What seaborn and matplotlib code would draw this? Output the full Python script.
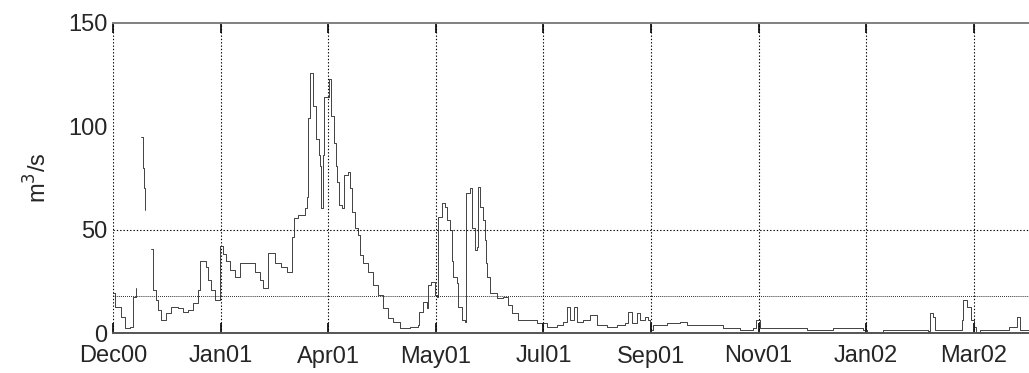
import numpy             as np
import pandas            as pd
import seaborn           as sns
import matplotlib.pyplot as plt


# x positions in units of the month ticks (0 = Dec00, 1 = Jan01, ...)
TICK_LABELS = ["Dec00", "Jan01", "Apr01", "May01", "Jul01",
               "Sep01", "Nov01", "Jan02", "Mar02"]

NAN = float("nan")

FLOW_X = [
    0.00, 0.02, 0.07, 0.11, 0.16, 0.19, 0.21, 0.24, 0.26, 0.28, 0.29, 0.30,
    0.32, 0.35, 0.37, 0.40, 0.42, 0.45, 0.49, 0.54, 0.60, 0.65, 0.70, 0.74,
    0.79, 0.81, 0.86, 0.88, 0.91, 0.95, 0.99, 1.02, 1.05, 1.09, 1.13,
    1.18, 1.28, 1.32, 1.37, 1.39, 1.44, 1.51, 1.56, 1.62, 1.66, 1.68,
    1.72, 1.78, 1.80, 1.81, 1.83, 1.86, 1.89, 1.91, 1.92, 1.93, 1.95,
    1.96, 2.01, 2.03, 2.05, 2.07, 2.08, 2.10, 2.13, 2.15, 2.18, 2.20,
    2.22, 2.25, 2.28, 2.30, 2.32, 2.37, 2.42, 2.46, 2.51, 2.56, 2.60,
    2.67, 2.76, 2.83, 2.84, 2.88, 2.92, 2.93, 2.96, 2.99, 3.01, 3.02,
    3.06, 3.09, 3.10, 3.13, 3.15, 3.16, 3.20, 3.21, 3.24, 3.27, 3.28,
    3.32, 3.34, 3.36, 3.38, 3.39, 3.41, 3.44, 3.46, 3.47, 3.48, 3.50,
    3.57, 3.62, 3.67, 3.71, 3.76, 3.85, 3.94, 4.03, 4.13, 4.18, 4.22,
    4.25, 4.28, 4.31, 4.37, 4.43, 4.50, 4.59, 4.68, 4.76, 4.79, 4.82,
    4.87, 4.90, 4.94, 4.97, 4.99, 5.02, 5.15, 5.27, 5.33, 5.58, 5.67,
    5.83, 5.95, 5.98, 6.01, 6.23, 6.45, 6.69, 6.97, 7.01, 7.16, 7.32,
    7.57, 7.59, 7.62, 7.64, 7.87, 7.89, 7.90, 7.94, 7.97, 8.00, 8.02,
    8.06, 8.24, 8.33, 8.40, 8.43, 8.51,
]

# NAN marks a gap in the record
FLOW_Q = [
    19.4, 12.6, 7.7, 2.4, 3.0, 17.4, 21.8, NAN, 95.0, 80.0, 70.0, 59.5,
    NAN, 40.6, 20.8, 16.0, 11.0, 6.3, 9.7, 12.6, 12.0, 10.0, 11.0, 14.5,
    20.8, 35.0, 32.0, 25.6, 20.8, 16.0, 42.0, 38.0, 35.0, 30.5, 27.0,
    34.0, 34.0, 29.5, 25.6, 22.0, 38.7, 34.0, 32.0, 29.5, 46.5, 55.6,
    57.0, 60.5, 66.0, 104.0, 126.0, 110.0, 94.0, 86.0, 81.0, 60.5, 86.0,
    114.0, 123.0, 105.0, 92.0, 81.0, 73.0, 62.0, 60.5, 76.5, 78.0, 70.0,
    58.5, 50.8, 47.4, 37.7, 34.0, 29.5, 23.0, 18.4, 12.0, 7.3, 5.3,
    2.4, 3.0, 3.9, 10.0, 15.0, 12.0, 23.0, 24.7, 18.4, 17.4, 56.0,
    63.0, 61.0, 54.7, 50.0, 35.0, 27.0, 24.0, 12.6, 6.3, 5.3, 67.7,
    70.0, 51.0, 40.0, 41.6, 70.6, 61.0, 54.7, 45.0, 34.0, 27.0, 19.4,
    17.0, 17.4, 13.5, 9.7, 6.3, 6.3, 4.8, 3.0, 3.9, 5.3, 12.6,
    6.3, 12.6, 5.3, 6.3, 8.7, 3.9, 3.0, 3.9, 4.8, 10.0, 4.8,
    9.7, 6.3, 7.7, 6.3, 1.5, 3.9, 4.8, 5.3, 3.9, 3.9, 2.4,
    1.5, 2.4, 6.3, 2.4, 2.4, 1.5, 2.4, 1.5, 0.5, 1.5, 1.5,
    0.8, 9.7, 7.7, 1.5, 1.5, 6.3, 16.0, 12.6, 6.3, 3.0, 0.5,
    1.5, 1.5, 3.0, 7.7, 1.5, 1.5,
]

THRESHOLD = 18
Y_TICKS   = [0, 50, 100, 150]


def make_plot():

    df        = pd.DataFrame({"x": FLOW_X, "q": FLOW_Q})
    df["seg"] = df["q"].isna().cumsum()
    df        = df.dropna()

    sns.set_theme(style="white")
    plt.rcParams["font.family"] = ["Liberation Sans", "DejaVu Sans"]

    fig = plt.figure(figsize=(10.29, 3.73), dpi=100)
    ax  = fig.add_axes([113 / 1029, 40 / 373, 916 / 1029, 310 / 373])

    sns.lineplot(
        data      =df,
        x         ="x",
        y         ="q",
        units     ="seg",
        ax        =ax,
        color     ="#222222",
        linewidth =0.6,
        drawstyle ="steps-post",
        estimator =None,
    )

    ax.set_xlim(0, 916 / 107.6)
    ax.set_ylim(0, 150)
    ax.set_xticks(np.arange(len(TICK_LABELS)))
    ax.set_xticklabels(TICK_LABELS)
    ax.set_yticks(Y_TICKS)

    for x in ax.get_xticks():
        ax.axvline(x, color="black", linestyle=(0, (1.2, 1.8)), linewidth=0.8, zorder=0)
    ax.axhline(50, color="black", linestyle=(0, (1.2, 1.8)), linewidth=0.8, zorder=0)
    ax.axhline(THRESHOLD, color="black", linestyle=(0, (0.8, 1.2)), linewidth=0.7, zorder=0)

    ax.spines["left"].set_visible(False)
    ax.spines["right"].set_visible(False)
    ax.spines["top"].set_color("#808080")
    ax.spines["top"].set_linewidth(1.4)
    ax.spines["bottom"].set_color("#555555")
    ax.spines["bottom"].set_linewidth(1.4)

    ax.tick_params(axis="x", direction="in", top=True, bottom=True,
                   length=7, width=1.2, color="black", pad=9, labelsize=17)
    ax.tick_params(axis="y", left=False, length=0, pad=4, labelsize=17)

    ax.set_xlabel("")
    ax.set_ylabel("m$^3$/s", fontsize=17, labelpad=12)

    fig.savefig("out.png", dpi=100)


if __name__ == "__main__":
    make_plot()
